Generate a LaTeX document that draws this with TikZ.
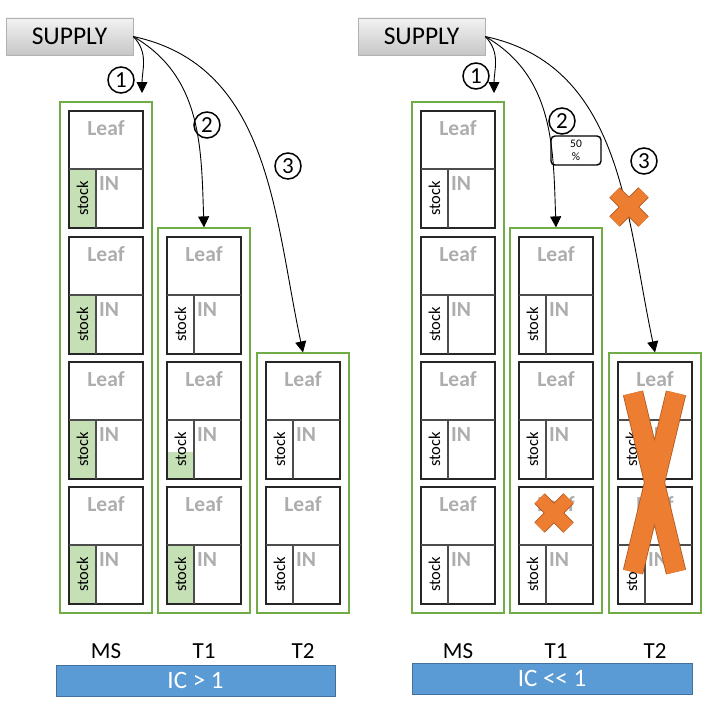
\documentclass[tikz,border=0pt]{standalone}
\usepackage{fontspec}
\setmainfont{Carlito}
\usetikzlibrary{positioning,arrows.meta,fit,calc}

\definecolor{tiergreen}{HTML}{70AD47}
\definecolor{stockgreen}{HTML}{C5E0B4}
\definecolor{leafgray}{HTML}{ADADAD}
\definecolor{barblue}{HTML}{5B9BD5}
\definecolor{barline}{HTML}{41719C}
\definecolor{crossfill}{HTML}{ED7D31}
\definecolor{crossline}{HTML}{AE5A21}

% one leaf cell: name, x and y of its top left corner, height of the green stock fill
\newcommand{\leafcell}[4]{%
  \fill[stockgreen] (#2,{-(#3+117)}) rectangle ++(27,#4);
  \node[leafbox] (#1) at (#2,-#3) {};
  \node[leaftext, anchor=north] (#1-lf) at ([yshift=-9pt]#1.north) {Leaf};
  \draw[cellline] ([yshift=-58pt]#1.north west) -- ([yshift=-58pt]#1.north east);
  \node[stockbox] (#1-s) at (#1.south west) {};
  \node[stocktext] (#1-st) at (#1-s.center) {stock};
  \draw[cellline] (#1-s.north east) -- (#1-s.south east);
  \node[leaftext, anchor=north west] (#1-in) at ([xshift=3pt,yshift=-7pt]#1-s.north east) {IN};
}

% orange cross: x, y of centre, half diagonal, arm width
\newcommand{\crossmark}[4]{%
  \draw[crossline, line width=#4pt+1.6pt] ({#1-#3},{-#2+#3}) -- ({#1+#3},{-#2-#3})
    ({#1+#3},{-#2+#3}) -- ({#1-#3},{-#2-#3});
  \draw[crossfill, line width=#4pt] ({#1-#3},{-#2+#3}) -- ({#1+#3},{-#2-#3})
    ({#1+#3},{-#2+#3}) -- ({#1-#3},{-#2-#3});
}

\begin{document}
\begin{tikzpicture}[x=1pt, y=1pt,
    supply/.style={draw=black!30, top color=black!5, bottom color=black!22,
      minimum width=127pt, minimum height=37pt, font=\fontsize{25.5}{30}\selectfont},
    leafbox/.style={draw=black!85, line width=2pt, minimum width=74pt, minimum height=117pt,
      anchor=north west, inner sep=0pt, outer sep=0pt},
    stockbox/.style={anchor=south west, minimum width=27pt, minimum height=59pt,
      inner sep=0pt, outer sep=0pt},
    cellline/.style={draw=black!70, line width=1.2pt},
    leaftext/.style={text=leafgray, inner sep=0pt, font=\bfseries\fontsize{21.5}{23}\selectfont},
    stocktext/.style={rotate=90, inner sep=0pt, font=\fontsize{16.5}{18}\selectfont},
    tier/.style={draw=tiergreen, line width=1.2pt, inner sep=9pt},
    num/.style={circle, draw, line width=1.5pt, minimum size=26pt, inner sep=0pt,
      font=\fontsize{23}{24}\selectfont},
    feed/.style={-{Triangle[length=11pt, width=11pt]}, line width=0.9pt},
    collab/.style={font=\fontsize{23}{25}\selectfont},
    icbar/.style={draw=barline, line width=1pt, fill=barblue, text=white,
      minimum width=279pt, minimum height=31pt, font=\fontsize{25}{27}\selectfont}]

\useasboundingbox (0,0) rectangle (709,-709);
\coordinate (labrow) at (0,-651);

% --- left panel: IC > 1
\foreach \y/\i in {111/1, 237/2, 362/3, 487/4}
  {\leafcell{L-MS-\i}{69}{\y}{59}}
\leafcell{L-T1-1}{167}{237}{0}
\leafcell{L-T1-2}{167}{362}{27}
\leafcell{L-T1-3}{167}{487}{59}
\leafcell{L-T2-1}{266}{362}{0}
\leafcell{L-T2-2}{266}{487}{0}

\node[tier, fit=(L-MS-1)(L-MS-4)] (L-MS) {};
\node[tier, fit=(L-T1-1)(L-T1-3)] (L-T1) {};
\node[tier, fit=(L-T2-1)(L-T2-2)] (L-T2) {};

\node[supply] (L-sup) at (69.5,-36.5) {SUPPLY};
\coordinate (L-in1) at (142,-93);
\draw[feed] (L-sup.east) to[out=-45, in=90] (L-in1);
\draw[feed] (L-sup.east) to[out=-30, in=92] (L-T1.north);
\draw[feed] (L-sup.east) to[out=-12, in=102] (L-T2.north);
\node[num] (L-n1) at (121,-80) {1};
\node[num] (L-n2) at (207,-125) {2};
\node[num] (L-n3) at (288,-166) {3};

\node[collab] (L-ms-lab) at (L-MS.south |- labrow) {MS};
\node[collab] (L-t1-lab) at (L-T1.south |- labrow) {T1};
\node[collab] (L-t2-lab) at (L-T2.south |- labrow) {T2};
\node[icbar] (L-ic) at (195.5,-680.5) {IC > 1};

% --- right panel: IC << 1
\begin{scope}[xshift=352pt]
\foreach \y/\i in {111/1, 237/2, 362/3, 487/4}
  {\leafcell{R-MS-\i}{69}{\y}{0}}
\foreach \y/\i in {237/1, 362/2, 487/3}
  {\leafcell{R-T1-\i}{167}{\y}{0}}
\leafcell{R-T2-1}{266}{362}{0}
\leafcell{R-T2-2}{266}{487}{0}

\node[tier, fit=(R-MS-1)(R-MS-4)] (R-MS) {};
\node[tier, fit=(R-T1-1)(R-T1-3)] (R-T1) {};
\node[tier, fit=(R-T2-1)(R-T2-2)] (R-T2) {};

\node[supply] (R-sup) at (69.5,-36.5) {SUPPLY};
\coordinate (R-in1) at (142,-93);
\draw[feed] (R-sup.east) to[out=-45, in=90] (R-in1);
\draw[feed] (R-sup.east) to[out=-30, in=92] (R-T1.north);
\draw[feed] (R-sup.east) to[out=-12, in=102] (R-T2.north);
\node[num] (R-n1) at (124,-76) {1};
\node[num] (R-n2) at (210,-121) {2};
\node[num] (R-n3) at (292,-161) {3};
\node[draw, line width=1.4pt, rounded corners=4pt, minimum width=50pt, minimum height=29pt,
  inner sep=1pt, align=center, font=\fontsize{11.5}{13}\selectfont] (R-pct) at (224,-150.5) {50\\\%};

% blocked flows
\crossmark{277}{207}{14.5}{13}
\crossmark{202}{513}{14.5}{13}
\draw[crossline, line width=20.6pt] (281,-393) -- (324,-572) (324,-393) -- (281,-572);
\draw[crossfill, line width=19pt] (281,-393) -- (324,-572) (324,-393) -- (281,-572);

\node[collab] (R-ms-lab) at (R-MS.south |- labrow) {MS};
\node[collab] (R-t1-lab) at (R-T1.south |- labrow) {T1};
\node[collab] (R-t2-lab) at (R-T2.south |- labrow) {T2};
\node[icbar, minimum width=280pt] (R-ic) at (200,-678.5) {IC <{}< 1};
\end{scope}
\end{tikzpicture}
\end{document}
